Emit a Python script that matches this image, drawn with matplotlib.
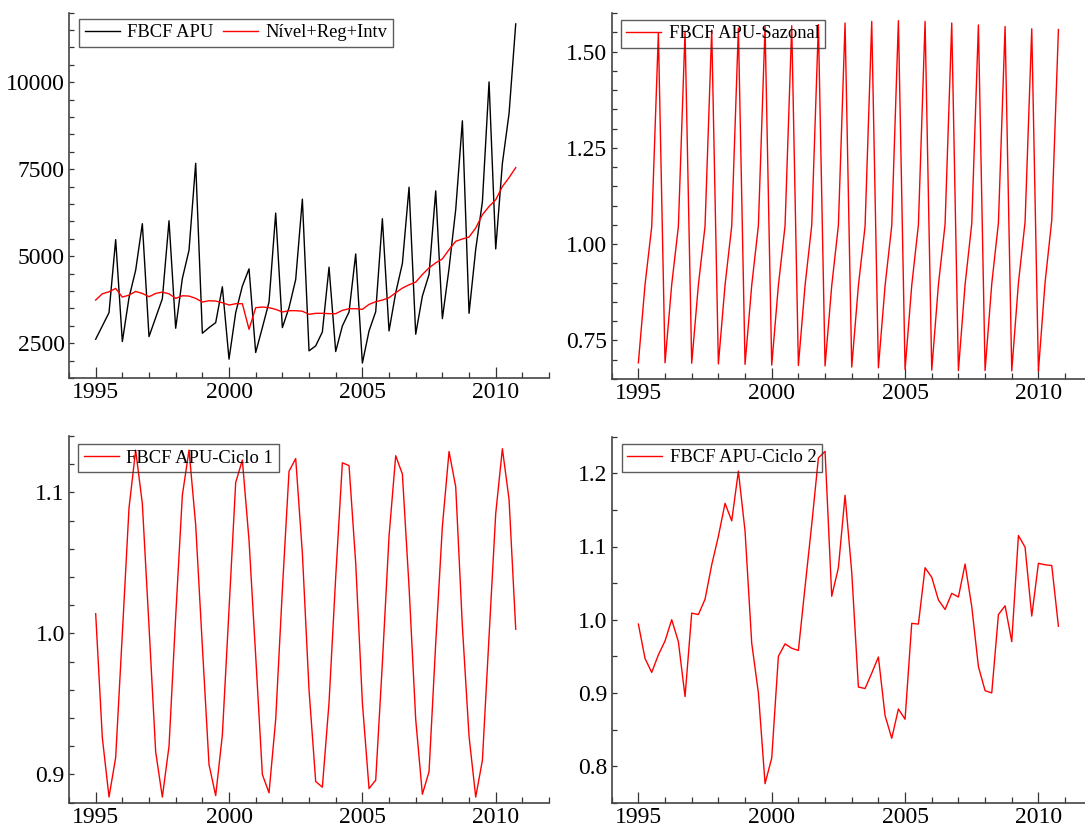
import matplotlib
matplotlib.use("Agg")
import matplotlib.pyplot as plt
from matplotlib.ticker import MultipleLocator, FormatStrFormatter

plt.rcParams['font.family'] = ['Liberation Serif', 'DejaVu Serif']

# quarterly data, 1995Q1 .. 2010Q4
first_year = 1995
n_obs = 64
dates = [first_year + i / 4 for i in range(n_obs)]

fbcf_apu = [
    2615, 2996, 3378, 5477, 2548, 3807, 4600, 5935,
    2690, 3235, 3778, 6020, 2930, 4360, 5172, 7671,
    2786, 2948, 3091, 4122, 2042, 3378, 4141, 4637,
    2233, 2948, 3683, 6240, 2948, 3521, 4331, 6640,
    2280, 2424, 2824, 4685, 2261, 2996, 3397, 5066,
    1928, 2853, 3406, 6078, 2853, 3950, 4790, 6984,
    2758, 3855, 4475, 6879, 3206, 4650, 6340, 8892,
    3359, 5200, 6560, 10010, 5210, 7671, 9102, 11678,
]

nivel_reg_intv = [
    3740, 3921, 3979, 4074, 3826, 3883, 3988, 3931,
    3836, 3931, 3969, 3921, 3788, 3864, 3855, 3788,
    3683, 3721, 3712, 3664, 3597, 3635, 3635, 2900,
    3521, 3540, 3521, 3473, 3397, 3435, 3435, 3420,
    3330, 3359, 3359, 3349, 3349, 3444, 3492, 3492,
    3473, 3616, 3692, 3740, 3807, 3950, 4084, 4179,
    4256, 4475, 4666, 4809, 4923, 5190, 5429, 5496,
    5553, 5811, 6193, 6431, 6622, 7003, 7260, 7547,
]

sazonal = [
    0.692, 0.895, 1.045, 1.548, 0.692, 0.895, 1.046, 1.553,
    0.691, 0.894, 1.047, 1.556, 0.689, 0.894, 1.047, 1.561,
    0.688, 0.893, 1.048, 1.565, 0.686, 0.893, 1.048, 1.567,
    0.685, 0.893, 1.049, 1.570, 0.684, 0.892, 1.049, 1.574,
    0.681, 0.892, 1.046, 1.578, 0.679, 0.892, 1.048, 1.580,
    0.675, 0.893, 1.050, 1.578, 0.673, 0.894, 1.052, 1.574,
    0.672, 0.895, 1.053, 1.569, 0.672, 0.897, 1.055, 1.565,
    0.671, 0.899, 1.058, 1.559, 0.671, 0.901, 1.062, 1.557,
]

ciclo1 = [
    1.014, 0.926, 0.884, 0.912, 1.000, 1.089, 1.130, 1.092,
    1.005, 0.916, 0.884, 0.920, 1.012, 1.098, 1.130, 1.077,
    0.991, 0.907, 0.885, 0.928, 1.017, 1.107, 1.123, 1.066,
    0.984, 0.900, 0.887, 0.939, 1.031, 1.115, 1.124, 1.057,
    0.960, 0.895, 0.891, 0.951, 1.040, 1.121, 1.119, 1.050,
    0.951, 0.890, 0.896, 0.979, 1.069, 1.126, 1.113, 1.033,
    0.939, 0.886, 0.902, 0.993, 1.076, 1.129, 1.104, 1.005,
    0.927, 0.884, 0.910, 0.998, 1.085, 1.131, 1.095, 1.003,
]

ciclo2 = [
    0.994, 0.947, 0.928, 0.952, 0.971, 1.000, 0.970, 0.895,
    1.009, 1.007, 1.028, 1.075, 1.114, 1.159, 1.135, 1.203,
    1.121, 0.968, 0.900, 0.776, 0.811, 0.950, 0.967, 0.961,
    0.958, 1.045, 1.130, 1.221, 1.230, 1.032, 1.071, 1.170,
    1.065, 0.908, 0.906, 0.927, 0.949, 0.869, 0.838, 0.878,
    0.864, 0.995, 0.994, 1.071, 1.058, 1.027, 1.014, 1.036,
    1.031, 1.076, 1.018, 0.936, 0.903, 0.900, 1.007, 1.019,
    0.970, 1.115, 1.099, 1.005, 1.077, 1.075, 1.074, 0.991,
]

W, H = 1085, 834
fig = plt.figure(figsize=(W / 100, H / 100), dpi=100)


def make_axes(x0, top, bottom):
    # pixel box -> figure fractions; x range is 1994..2012 (26.67 px per year)
    width = 18 * 26.67
    return fig.add_axes([x0 / W, 1 - bottom / H, width / W, (bottom - top) / H])


def style(ax, ylim, ymajor, yminor, yfmt=None):
    ax.set_xlim(1994, 2012)
    ax.set_ylim(*ylim)
    ax.set_xticks([1995, 2000, 2005, 2010])
    ax.xaxis.set_minor_locator(MultipleLocator(1))
    ax.yaxis.set_major_locator(MultipleLocator(ymajor))
    ax.yaxis.set_minor_locator(MultipleLocator(yminor))
    if yfmt:
        ax.yaxis.set_major_formatter(FormatStrFormatter(yfmt))
    for s in ("top", "right"):
        ax.spines[s].set_visible(False)
    for s in ("left", "bottom"):
        ax.spines[s].set_color("#444444")
        ax.spines[s].set_linewidth(1.2)
    ax.tick_params(axis="x", which="major", direction="in", length=8, width=0.9,
                   color="#333333", labelsize=17, pad=3)
    ax.tick_params(axis="x", which="minor", direction="in", length=4.3, width=0.9,
                   color="#333333")
    ax.tick_params(axis="y", which="both", direction="in", length=3.6, width=0.9,
                   color="#333333", labelsize=17, pad=3)


def legend(ax, x, y, ncol=1):
    leg = ax.legend(loc="upper left", bbox_to_anchor=(x, y), borderaxespad=0,
                    ncol=ncol, fontsize=13.3, frameon=True, fancybox=False,
                    facecolor="none", edgecolor="#333333", borderpad=0.3,
                    handlelength=1.9, handletextpad=0.4, columnspacing=0.5)
    leg.get_frame().set_linewidth(1.0)


# top left: series and level component
ax1 = make_axes(69, 12.7, 378)
ax1.plot(dates, fbcf_apu, color="black", lw=1.0, label="FBCF APU")
ax1.plot(dates, nivel_reg_intv, color="red", lw=1.0, label="Nível+Reg+Intv")
style(ax1, (1500, 12000), 2500, 500)
legend(ax1, 0.021, 0.983, ncol=2)

# top right: seasonal
ax2 = make_axes(611.7, 13, 379)
ax2.plot(dates, sazonal, color="red", lw=1.0, label="FBCF APU-Sazonal")
style(ax2, (0.65, 1.60), 0.25, 0.05, "%.2f")
legend(ax2, 0.019, 0.981)

# bottom left: cycle 1
ax3 = make_axes(69, 436, 802.7)
ax3.plot(dates, ciclo1, color="red", lw=1.0, label="FBCF APU-Ciclo 1")
style(ax3, (0.88, 1.14), 0.1, 0.02, "%.1f")
legend(ax3, 0.019, 0.978)

# bottom right: cycle 2
ax4 = make_axes(611.7, 436.7, 802.7)
ax4.plot(dates, ciclo2, color="red", lw=1.0, label="FBCF APU-Ciclo 2")
style(ax4, (0.75, 1.25), 0.1, 0.05, "%.1f")
legend(ax4, 0.021, 0.981)

fig.savefig("out.png", dpi=100)
